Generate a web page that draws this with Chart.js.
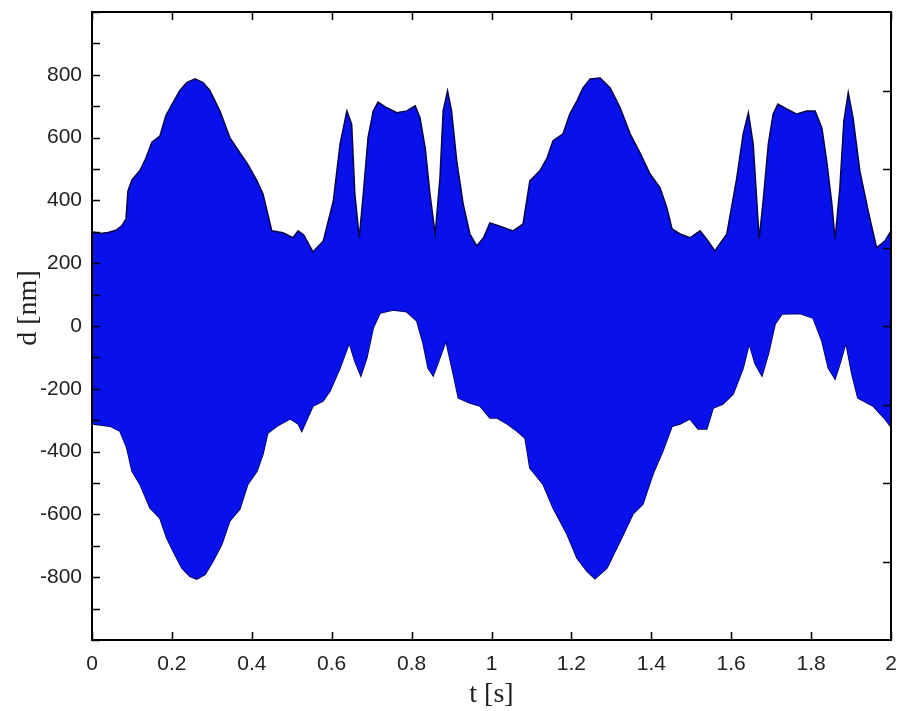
<!DOCTYPE html>
<html>
<head>
<meta charset="utf-8">
<script src="https://cdn.jsdelivr.net/npm/chart.js@4.4.1/dist/chart.umd.min.js"></script>
<style>
  html, body { margin: 0; padding: 0; background: #fff; }
</style>
</head>
<body>
<canvas id="myChart" width="899" height="711"></canvas>
<script>
// upper edge of the vibration envelope
const tUpper = [0, 0.02, 0.04, 0.06, 0.075, 0.085, 0.09, 0.10, 0.12, 0.135, 0.15, 0.17, 0.185, 0.2, 0.22, 0.237, 0.258, 0.278, 0.295, 0.32, 0.345, 0.37, 0.39, 0.413, 0.428, 0.44, 0.45, 0.478, 0.503, 0.516, 0.53, 0.553, 0.579, 0.604, 0.621, 0.638, 0.65, 0.658, 0.669, 0.679, 0.691, 0.704, 0.716, 0.738, 0.763, 0.788, 0.809, 0.821, 0.834, 0.846, 0.859, 0.871, 0.879, 0.89, 0.9, 0.913, 0.929, 0.946, 0.963, 0.98, 0.996, 1.021, 1.054, 1.079, 1.096, 1.121, 1.139, 1.154, 1.179, 1.196, 1.214, 1.229, 1.247, 1.272, 1.297, 1.322, 1.347, 1.372, 1.397, 1.422, 1.439, 1.452, 1.472, 1.497, 1.522, 1.542, 1.559, 1.589, 1.614, 1.63, 1.643, 1.655, 1.664, 1.67, 1.68, 1.693, 1.705, 1.717, 1.739, 1.764, 1.789, 1.81, 1.827, 1.839, 1.852, 1.86, 1.872, 1.882, 1.893, 1.905, 1.922, 1.943, 1.964, 1.985, 2.0];
const dUpper = [300, 295, 298, 305, 320, 340, 430, 465, 495, 535, 585, 605, 670, 705, 750, 775, 787, 775, 750, 685, 600, 552, 515, 462, 420, 357, 303, 297, 281, 303, 290, 236, 271, 398, 580, 685, 643, 420, 281, 420, 600, 685, 713, 695, 679, 685, 701, 663, 567, 420, 293, 472, 685, 749, 685, 526, 389, 293, 255, 281, 328, 318, 303, 325, 462, 494, 535, 590, 612, 675, 717, 758, 787, 790, 758, 695, 612, 551, 484, 440, 376, 309, 293, 281, 303, 271, 239, 293, 472, 612, 679, 580, 398, 277, 398, 580, 675, 707, 691, 675, 685, 685, 631, 526, 389, 277, 440, 653, 743, 663, 494, 366, 249, 271, 303];

// lower edge of the envelope
const tLower = [0, 0.045, 0.07, 0.087, 0.1, 0.12, 0.145, 0.17, 0.187, 0.203, 0.225, 0.245, 0.262, 0.283, 0.303, 0.325, 0.345, 0.37, 0.39, 0.413, 0.428, 0.44, 0.463, 0.496, 0.516, 0.525, 0.553, 0.578, 0.596, 0.621, 0.644, 0.658, 0.673, 0.688, 0.704, 0.721, 0.754, 0.788, 0.813, 0.829, 0.841, 0.854, 0.871, 0.886, 0.901, 0.917, 0.946, 0.971, 0.996, 1.014, 1.039, 1.064, 1.084, 1.096, 1.129, 1.154, 1.189, 1.214, 1.239, 1.259, 1.289, 1.322, 1.354, 1.379, 1.404, 1.429, 1.452, 1.472, 1.497, 1.517, 1.539, 1.555, 1.579, 1.605, 1.63, 1.645, 1.66, 1.677, 1.693, 1.71, 1.727, 1.772, 1.805, 1.827, 1.843, 1.86, 1.872, 1.887, 1.902, 1.917, 1.955, 1.985, 2.0];
const dLower = [-312, -319, -335, -388, -462, -504, -579, -612, -675, -717, -771, -797, -806, -791, -749, -695, -621, -583, -504, -462, -408, -341, -319, -296, -312, -335, -255, -239, -207, -134, -54, -112, -159, -101, -6, 41, 51, 45, 16, -57, -134, -159, -101, -48, -134, -229, -245, -255, -293, -293, -312, -335, -357, -452, -504, -579, -663, -739, -781, -805, -771, -685, -599, -567, -472, -398, -319, -312, -296, -328, -328, -261, -249, -217, -134, -57, -121, -159, -89, 6, 38, 40, 25, -48, -134, -169, -121, -54, -153, -229, -255, -296, -322];

const rightTicks = [-750, -500, -250, 0, 250, 500, 750];

const toPts = (ts, ds) => ts.map((t, i) => ({ x: t, y: ds[i] }));

const framePlugin = {
  id: 'frame',
  afterDraw(chart) {
    const { ctx, chartArea: a, scales: { x, y } } = chart;
    ctx.save();
    ctx.strokeStyle = '#000';
    ctx.lineWidth = 1.5;
    ctx.beginPath();
    x.ticks.forEach(t => {
      const px = Math.round(x.getPixelForValue(t.value)) + 0.5;
      ctx.moveTo(px, a.bottom); ctx.lineTo(px, a.bottom - 8);
      ctx.moveTo(px, a.top); ctx.lineTo(px, a.top + 8);
    });
    y.ticks.forEach(t => {
      const py = Math.round(y.getPixelForValue(t.value)) + 0.5;
      ctx.moveTo(a.left, py); ctx.lineTo(a.left + 8, py);
    });
    rightTicks.forEach(v => {
      const py = Math.round(y.getPixelForValue(v)) + 0.5;
      ctx.moveTo(a.right, py); ctx.lineTo(a.right - 8, py);
    });
    ctx.stroke();
    ctx.lineWidth = 2;
    ctx.strokeRect(a.left, a.top, a.right - a.left, a.bottom - a.top);

    // y axis title
    ctx.fillStyle = '#222';
    ctx.font = '28px "Liberation Serif"';
    ctx.textAlign = 'center';
    ctx.textBaseline = 'middle';
    ctx.translate(29, 308);
    ctx.rotate(-Math.PI / 2);
    ctx.fillText('d [nm]', 0, 0);
    ctx.restore();
  }
};

const ctx = document.getElementById('myChart');

const myChart = new Chart(ctx, {
  type: 'line',
  data: {
    datasets: [
      {
        label: 'upper',
        data: toPts(tUpper, dUpper),
        borderColor: '#06064a',
        borderWidth: 1.5,
        backgroundColor: 'rgb(8, 16, 236)',
        fill: '+1',
        pointRadius: 0,
        tension: 0
      },
      {
        label: 'lower',
        data: toPts(tLower, dLower),
        borderColor: '#06064a',
        borderWidth: 1.5,
        fill: false,
        pointRadius: 0,
        tension: 0
      }
    ]
  },
  options: {
    responsive: false,
    animation: false,
    devicePixelRatio: 1,
    layout: { padding: { top: 12, right: 8, left: 0, bottom: 0 } },
    plugins: {
      legend: { display: false },
      tooltip: { enabled: false }
    },
    scales: {
      x: {
        type: 'linear',
        min: 0,
        max: 2,
        grid: { display: false, drawTicks: false },
        border: { display: false },
        ticks: {
          stepSize: 0.2,
          autoSkip: false,
          maxRotation: 0,
          padding: 12,
          color: '#222',
          font: { family: 'Liberation Sans', size: 21 },
          callback: v => String(Number(v.toFixed(1)))
        },
        title: {
          display: true,
          text: 't [s]',
          color: '#222',
          font: { family: 'Liberation Serif', size: 28 },
          padding: { top: 0, bottom: 0 }
        },
        afterFit(s) {
          s.height = 71;
          s.paddingLeft = 0;
          s.paddingRight = 0;
        }
      },
      y: {
        min: -1000,
        max: 1000,
        grid: { display: false, drawTicks: false },
        border: { display: false },
        ticks: {
          stepSize: 100,
          autoSkip: false,
          padding: 10,
          color: '#222',
          font: { family: 'Liberation Sans', size: 21 },
          callback: v => (v % 200 === 0 && Math.abs(v) <= 800) ? String(v) : ''
        },
        afterFit(s) {
          s.width = 92;
          s.paddingTop = 0;
          s.paddingBottom = 0;
        }
      }
    }
  },
  plugins: [framePlugin]
});
</script>
</body>
</html>
